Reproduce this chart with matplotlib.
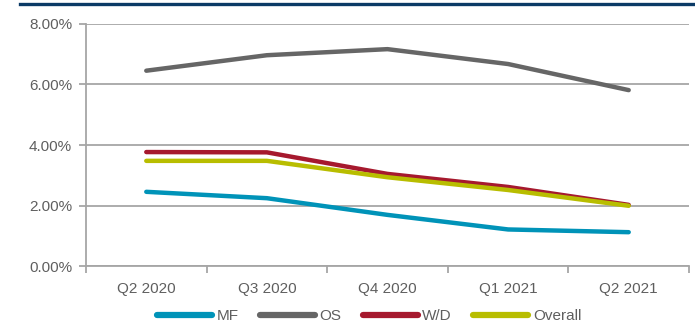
import matplotlib
matplotlib.use("Agg")
import matplotlib.pyplot as plt
from matplotlib.ticker import FuncFormatter, FixedLocator

plt.rcParams['font.family'] = ['Liberation Sans', 'DejaVu Sans']

quarters = ["Q2 2020", "Q3 2020", "Q4 2020", "Q1 2021", "Q2 2021"]
mf = [2.46, 2.25, 1.70, 1.22, 1.13]
os_ = [6.45, 6.96, 7.16, 6.67, 5.81]
wd = [3.77, 3.76, 3.05, 2.62, 2.03]
overall = [3.48, 3.48, 2.94, 2.52, 2.00]

series = [("MF", mf, "#0093b8"), ("OS", os_, "#666666"),
          ("W/D", wd, "#a6192e"), ("Overall", overall, "#b8bd00")]

grey = "#a6a6a6"
text_grey = "#5f5f5f"

fig = plt.figure(figsize=(6.95, 3.24), dpi=100)
ax = fig.add_axes([0.1237, 0.1775, 0.8677, 0.7495])

x = list(range(len(quarters)))
for name, vals, col in series:
    ax.plot(x, vals, color=col, lw=3.2, solid_capstyle='round',
            solid_joinstyle='round', label=name, zorder=3)

ax.set_ylim(0, 8)
ax.set_xlim(-0.5, len(quarters) - 0.5)
ax.set_yticks([0, 2, 4, 6, 8])
ax.yaxis.set_major_formatter(FuncFormatter(lambda v, p: "%.2f%%" % v))
ax.grid(axis='y', color=grey, lw=1.3, zorder=0)

# ticks at category boundaries, labels at centres
ax.xaxis.set_major_locator(FixedLocator([i - 0.5 for i in range(len(quarters) + 1)]))
ax.xaxis.set_minor_locator(FixedLocator(x))
ax.set_xticklabels([], minor=False)
ax.set_xticklabels(quarters, minor=True)
ax.tick_params(axis='x', which='major', length=5, width=1.3, color=grey)
ax.tick_params(axis='x', which='minor', length=0, pad=11, labelsize=11, labelcolor=text_grey)
ax.tick_params(axis='y', length=5, width=1.3, color=grey, labelsize=11,
               labelcolor=text_grey, pad=5)

for s in ['top', 'right']:
    ax.spines[s].set_visible(False)
for s in ['left', 'bottom']:
    ax.spines[s].set_color(grey)
    ax.spines[s].set_linewidth(1.3)

leg = fig.legend(loc='center', bbox_to_anchor=(369 / 695, 1 - 316 / 324), ncol=4,
                 frameon=False, fontsize=11, handlelength=3.6, handletextpad=0.3,
                 columnspacing=1.4, labelcolor=text_grey, borderaxespad=0, borderpad=0)
for h in leg.get_lines():
    h.set_linewidth(4.5)

# dark band across the top
fig.add_artist(plt.Line2D([20 / 695, 1], [1 - 3.5 / 324, 1 - 3.5 / 324],
                          color="#0b3a66", lw=2.4, transform=fig.transFigure))

fig.savefig("out.png", dpi=100)
